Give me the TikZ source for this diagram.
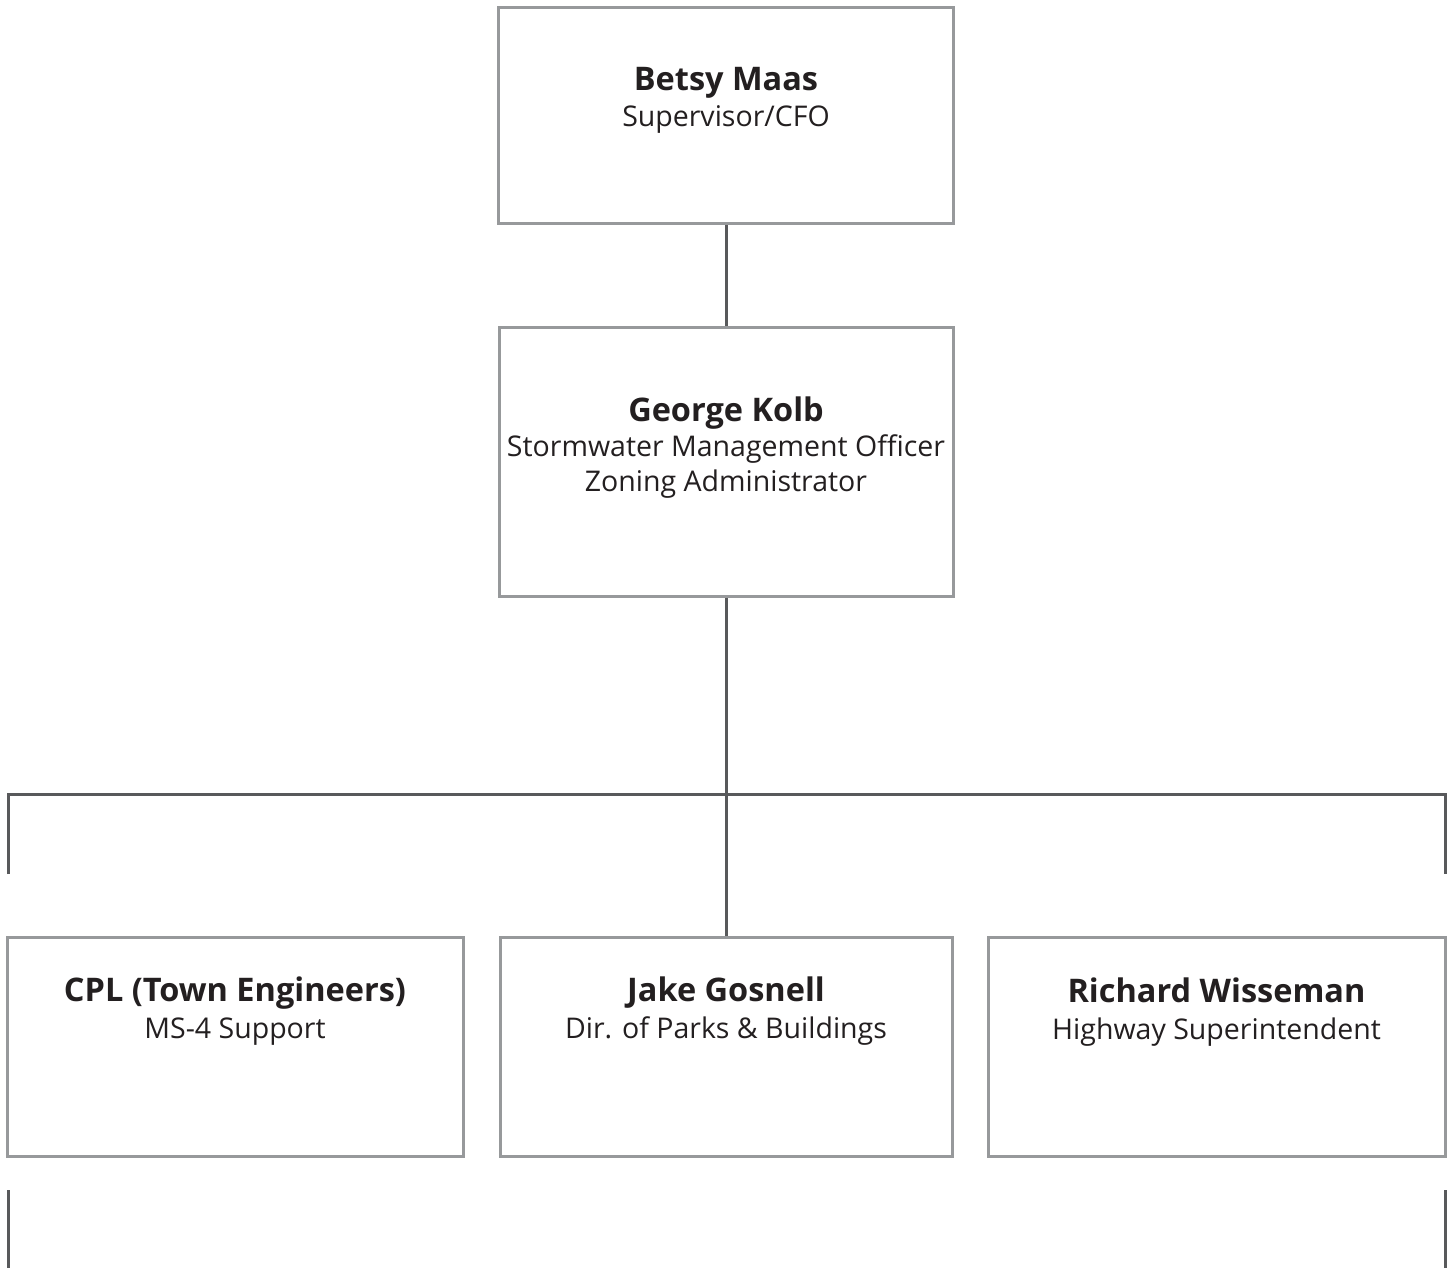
\documentclass[tikz,border=0pt]{standalone}
\usepackage{fontspec}
\setmainfont{Open Sans}
\usetikzlibrary{positioning}
\definecolor{boxgray}{HTML}{97999B}
\definecolor{linegray}{HTML}{58595B}
\definecolor{inkdark}{HTML}{231F20}
\begin{document}
\begin{tikzpicture}[x=1pt,y=-1pt,
  box/.style={draw=boxgray,line width=3pt,fill=white,inner sep=0pt},
  conn/.style={draw=linegray,line width=3pt},
  who/.style={font=\fontsize{32.5}{36}\selectfont\bfseries,text=inkdark,inner sep=0pt,anchor=base},
  role/.style={font=\fontsize{28.5}{35}\selectfont,text=inkdark,inner sep=0pt,anchor=base,align=center}]
  \useasboundingbox (0,0) rectangle (1452,1268);
  % boxes
  \node[box,minimum width=455pt,minimum height=216pt] (betsy) at (726,116) {};
  \node[box,minimum width=454pt,minimum height=269pt] (george) at (726,461.5) {};
  \node[box,minimum width=456pt,minimum height=219pt] (cpl) at (235,1046.5) {};
  \node[box,minimum width=452pt,minimum height=219pt] (jake) at (726,1046.5) {};
  \node[box,minimum width=457pt,minimum height=219pt] (richard) at (1216.5,1047) {};
  % texts
  \node[who] (betsyname) at ([yshift=-84pt]betsy.north) {Betsy Maas};
  \node[role] at ([yshift=-36pt]betsyname.base) {Supervisor/CFO};
  \node[who] (georgename) at ([yshift=-96pt]george.north) {George Kolb};
  \node[role] at ([yshift=-35pt]georgename.base) {Stormwater Management Officer};
  \node[role] at ([yshift=-70pt]georgename.base) {Zoning Administrator};
  \node[who] (cplname) at ([yshift=-66pt]cpl.north) {CPL (Town Engineers)};
  \node[role] at ([yshift=-37pt]cplname.base) {MS-4 Support};
  \node[who] (jakename) at ([yshift=-66pt]jake.north) {Jake Gosnell};
  \node[role] at ([yshift=-37pt]jakename.base) {Dir. of Parks \& Buildings};
  \node[who] (richardname) at ([yshift=-66pt]richard.north) {Richard Wisseman};
  \node[role] at ([yshift=-37pt]richardname.base) {Highway Superintendent};
  % connectors
  \coordinate (barL) at (8,794);
  \coordinate (barR) at (1445,794);
  \coordinate (stubL) at (8,874);
  \coordinate (stubR) at (1445,874);
  \coordinate (tailLtop) at (8,1190);
  \coordinate (tailLbot) at (8,1268);
  \coordinate (tailRtop) at (1445,1190);
  \coordinate (tailRbot) at (1445,1268);
  \draw[conn] (betsy.south) -- (george.north);
  \draw[conn] (george.south) -- (jake.north);
  \draw[conn] (stubL) -- (barL) -- (barR) -- (stubR);
  \draw[conn] (tailLtop) -- (tailLbot);
  \draw[conn] (tailRtop) -- (tailRbot);
\end{tikzpicture}
\end{document}
